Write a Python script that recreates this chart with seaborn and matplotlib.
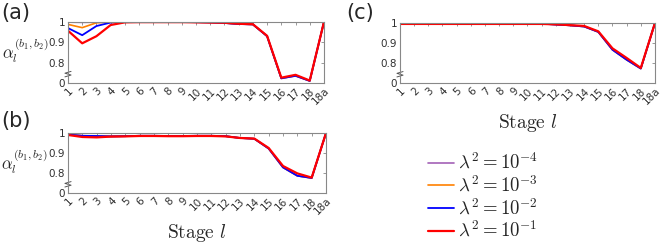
import matplotlib
matplotlib.use("Agg")
import matplotlib.pyplot as plt
import seaborn as sns
import pandas as pd

# stage labels on the x axis
stages = [str(i) for i in range(1, 19)] + ["18a"]

lam_labels = [r"$\lambda^2 = 10^{-4}$", r"$\lambda^2 = 10^{-3}$",
              r"$\lambda^2 = 10^{-2}$", r"$\lambda^2 = 10^{-1}$"]
colors = ["#a361b6", "#ff8000", "#0000ff", "#ff0000"]
widths = [1.2, 1.2, 1.3, 1.6]

# panel (a)
a_purple = [0.999, 0.998, 0.999, 1.0, 1.0, 1.0, 1.0, 1.0, 1.0, 0.999, 0.998, 0.995, 0.99, 0.988, 0.93, 0.722, 0.735, 0.71, 1.0]
a_orange = [0.988, 0.972, 0.996, 0.999, 1.0, 1.0, 1.0, 1.0, 1.0, 0.999, 0.998, 0.995, 0.99, 0.988, 0.93, 0.723, 0.736, 0.71, 1.0]
a_blue = [0.970, 0.935, 0.980, 0.997, 1.0, 1.0, 1.0, 1.0, 1.0, 0.999, 0.998, 0.995, 0.99, 0.988, 0.93, 0.723, 0.735, 0.71, 1.0]
a_red = [0.957, 0.895, 0.930, 0.985, 0.998, 0.999, 0.999, 0.999, 0.999, 0.998, 0.997, 0.996, 0.991, 0.989, 0.932, 0.726, 0.740, 0.712, 1.0]

# panel (b)
b_purple = [0.992, 0.986, 0.985, 0.983, 0.984, 0.986, 0.986, 0.985, 0.985, 0.986, 0.986, 0.984, 0.975, 0.971, 0.922, 0.828, 0.786, 0.775, 1.0]
b_orange = [0.992, 0.986, 0.985, 0.983, 0.984, 0.986, 0.986, 0.985, 0.985, 0.986, 0.986, 0.984, 0.975, 0.971, 0.922, 0.828, 0.786, 0.775, 1.0]
b_blue = [0.992, 0.986, 0.985, 0.983, 0.984, 0.986, 0.986, 0.985, 0.985, 0.986, 0.986, 0.984, 0.975, 0.971, 0.922, 0.828, 0.786, 0.775, 1.0]
b_red = [0.990, 0.980, 0.978, 0.982, 0.983, 0.985, 0.985, 0.984, 0.984, 0.985, 0.985, 0.983, 0.975, 0.972, 0.925, 0.835, 0.798, 0.777, 1.0]

# panel (c)
c_purple = [0.997, 0.997, 0.997, 0.997, 0.997, 0.997, 0.997, 0.997, 0.997, 0.997, 0.996, 0.992, 0.988, 0.982, 0.955, 0.866, 0.816, 0.772, 1.0]
c_orange = [0.997, 0.997, 0.997, 0.997, 0.997, 0.997, 0.997, 0.997, 0.997, 0.997, 0.996, 0.992, 0.988, 0.982, 0.955, 0.866, 0.816, 0.772, 1.0]
c_blue = [0.997, 0.997, 0.997, 0.997, 0.997, 0.997, 0.997, 0.997, 0.997, 0.997, 0.996, 0.992, 0.988, 0.982, 0.955, 0.866, 0.816, 0.772, 1.0]
c_red = [0.995, 0.995, 0.995, 0.995, 0.995, 0.995, 0.995, 0.995, 0.995, 0.995, 0.995, 0.993, 0.989, 0.985, 0.958, 0.873, 0.825, 0.775, 1.0]

panels = {
    "(a)": [a_purple, a_orange, a_blue, a_red],
    "(b)": [b_purple, b_orange, b_blue, b_red],
    "(c)": [c_purple, c_orange, c_blue, c_red],
}

sns.set_style("white")
plt.rcParams["mathtext.fontset"] = "cm"
plt.rcParams["font.family"] = ["DejaVu Sans"]

fig = plt.figure(figsize=(6.64, 2.44), dpi=100)
rects = {
    "(a)": [0.1024, 0.660, 0.3855, 0.250],
    "(b)": [0.1024, 0.209, 0.3886, 0.246],
    "(c)": [0.6024, 0.660, 0.3840, 0.246],
}
# where the panel letters sit (figure fraction)
letter_xy = {"(a)": (0.002, 0.945), "(b)": (0.002, 0.505), "(c)": (0.522, 0.945)}

pos = list(range(1, len(stages) + 1))
handles = []
for name, series in panels.items():
    ax = fig.add_axes(rects[name])
    for vals, col, lw, lab in zip(series, colors, widths, lam_labels):
        df = pd.DataFrame({"stage": pos, "alpha": vals})
        sns.lineplot(data=df, x="stage", y="alpha", color=col, linewidth=lw,
                     ax=ax, label=lab, legend=False)
    ax.set_xlim(1, len(stages))
    ax.set_ylim(0.7, 1.0)
    ax.set_yticks([0.7, 0.8, 0.9, 1.0])
    ax.set_yticklabels(["0", "0.8", "0.9", "1"])
    ax.set_xticks(pos)
    ax.set_xticklabels(stages, rotation=45, ha="right", va="top",
                       rotation_mode="anchor")
    ax.tick_params(direction="in", length=2.5, width=0.6, labelsize=7.5,
                   colors="#888888", labelcolor="#303030", top=True, right=True,
                   pad=2)
    for sp in ax.spines.values():
        sp.set_color("#888888")
        sp.set_linewidth(0.8)
    ax.set_xlabel("")
    ax.set_ylabel("")
    # axis break mark
    ax.plot([-0.012, 0.012, -0.012, 0.012], [0.10, 0.13, 0.16, 0.19],
            transform=ax.transAxes, color="#555555", lw=0.7, clip_on=False)
    fig.text(letter_xy[name][0], letter_xy[name][1], name,
             fontsize=15, ha="left", va="center")
    if name in ("(a)", "(b)"):
        ax.text(-0.168, 0.52, r"$\alpha_l^{(b_1,b_2)}$", transform=ax.transAxes,
                fontsize=12, ha="center", va="center")
    if name in ("(b)", "(c)"):
        ax.text(0.5, -0.66, r"$\mathrm{Stage}\ l$", transform=ax.transAxes,
                fontsize=14, ha="center", va="center")
    if name == "(a)":
        handles = ax.get_lines()[:4]

fig.legend(handles=handles, labels=lam_labels, loc="upper left",
           bbox_to_anchor=(0.633, 0.405), frameon=False, fontsize=13.5,
           handlelength=1.4, handletextpad=0.2, labelspacing=0.12,
           borderaxespad=0)

fig.savefig("out.png", dpi=100)
